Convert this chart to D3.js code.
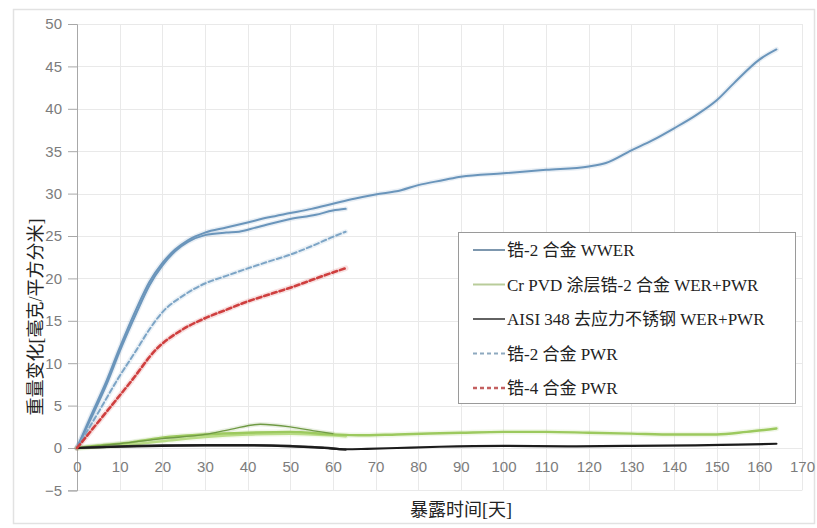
<!DOCTYPE html>
<html>
<head>
<meta charset="utf-8">
<script src="https://cdn.jsdelivr.net/npm/d3@7"></script>
<style>
  html, body { margin: 0; padding: 0; background: #fff; }
  svg { display: block; }
</style>
</head>
<body>
<svg id="chart" width="817" height="528"></svg>
<script>
// Weight change [mg/dm²] against exposure time [days], as [day, value] pairs
const zr2WwerLong = [[0,0],[3,3.5],[7,8],[10,11.8],[14,16.5],[17,19.6],[20,21.8],[23,23.4],[26,24.5],[30,25.4],[35,26],[40,26.6],[45,27.2],[50,27.7],[55,28.2],[60,28.8],[65,29.4],[70,29.9],[76,30.4],[80,31.0],[86,31.6],[90,32.0],[100,32.4],[110,32.8],[120,33.2],[124,33.6],[130,35.1],[135,36.3],[140,37.7],[145,39.2],[150,41],[154,43],[160,45.8],[164,47]];
const zr2WwerShort = [[0,0],[3,3.2],[7,7.6],[10,11.4],[14,16],[17,19.2],[20,21.5],[23,23.2],[26,24.3],[30,25.1],[35,25.4],[38,25.5],[42,26],[50,27],[56,27.5],[60,28],[63,28.2]];
const crPvdLong = [[0,0],[5,0.3],[11.7,0.6],[19.5,1.2],[30,1.6],[40,1.8],[50,1.9],[60,1.6],[66,1.5],[75,1.6],[90,1.8],[100,1.9],[110,1.9],[120,1.8],[130,1.7],[140,1.6],[150,1.6],[157,1.9],[164,2.3]];
const crPvdHump = [[0,0],[10,0.5],[20,1.1],[30,1.6],[36,2.2],[43,2.8],[50,2.5],[56,2.0],[60,1.7]];
const crPvdLow = [[0,0],[10,0.3],[20,0.8],[30,1.3],[40,1.6],[50,1.7],[60,1.5],[63,1.4]];
const aisiLong = [[0,0],[10,0.15],[20,0.25],[30,0.3],[40,0.3],[50,0.2],[58,0],[63,-0.15],[68,-0.1],[75,0],[85,0.15],[100,0.25],[115,0.2],[130,0.25],[145,0.3],[155,0.4],[164,0.5]];
const aisiShort = [[0,0],[10,0.2],[20,0.3],[30,0.35],[40,0.35],[50,0.25],[58,0.05],[63,-0.2]];
const zr2Pwr = [[0,0],[5,4.2],[9.4,8],[14,11.6],[17,14],[20,16],[25,18],[30,19.4],[35,20.3],[39,21],[45,22],[50,22.8],[55,23.8],[60,24.9],[63,25.5]];
const zr4Pwr = [[0,0],[6,3.7],[12.9,8],[18.5,11.6],[24.5,13.9],[30,15.3],[35,16.3],[39,17.1],[45,18.1],[50,18.9],[55,19.8],[60,20.7],[63,21.2]];

const xTicks = [0,10,20,30,40,50,60,70,80,90,100,110,120,130,140,150,160,170];
const yTicks = [-5,0,5,10,15,20,25,30,35,40,45,50];

const legendLabels = ["锆-2 合金 WWER", "Cr PVD 涂层锆-2 合金 WER+PWR", "AISI 348 去应力不锈钢 WER+PWR", "锆-2 合金 PWR", "锆-4 合金 PWR"];
const xTitle = "暴露时间[天]";
const yTitle = "重量变化[毫克/平方分米]";

const svg = d3.select("#chart");
const serif = "'Liberation Serif', 'Noto Sans CJK SC', serif";
const sans = "'Liberation Sans', Arial, sans-serif";

// outer frame
svg.append("rect").attr("x", 13.5).attr("y", 9.5).attr("width", 801).attr("height", 514)
  .attr("fill", "#fff").attr("stroke", "#e2e2e2").attr("stroke-width", 1.5);

const x = d3.scaleLinear().domain([0, 170]).range([77, 802]);
const y = d3.scaleLinear().domain([-5, 50]).range([490.4, 24]);

// grid
const grid = svg.append("g").attr("stroke", "#e9e9e9").attr("stroke-width", 1);
grid.selectAll("line.h").data(yTicks).join("line")
  .attr("x1", x(0)).attr("x2", x(170))
  .attr("y1", d => Math.round(y(d)) + 0.5).attr("y2", d => Math.round(y(d)) + 0.5);
grid.selectAll("line.v").data(xTicks.slice(1)).join("line")
  .attr("y1", y(50)).attr("y2", y(-5))
  .attr("x1", d => Math.round(x(d)) + 0.5).attr("x2", d => Math.round(x(d)) + 0.5);

// y axis
const yAxis = d3.axisLeft(y).tickValues(yTicks).tickSize(9).tickPadding(6);
const gy = svg.append("g").attr("transform", `translate(${x(0)},0)`).call(yAxis);
gy.select(".domain").attr("stroke", "#a8a8a8");
gy.selectAll(".tick line").attr("stroke", "#a8a8a8");
gy.selectAll(".tick text").attr("fill", "#7c7c7c").style("font-family", sans).style("font-size", "15px");

// x tick labels sit just below the zero line
const xAxis = d3.axisBottom(x).tickValues(xTicks).tickSize(0).tickPadding(13);
const gx = svg.append("g").attr("transform", `translate(0,${y(0)})`).call(xAxis);
gx.select(".domain").remove();
gx.selectAll(".tick text").attr("fill", "#7c7c7c").style("font-family", sans).style("font-size", "15px");

// axis titles
svg.append("text").attr("x", 461).attr("y", 516).attr("text-anchor", "middle")
  .style("font-family", serif).style("font-size", "18px").attr("fill", "#222").text(xTitle);
svg.append("text").attr("transform", "translate(42,317) rotate(-90)").attr("text-anchor", "middle")
  .style("font-family", serif).style("font-size", "18px").attr("fill", "#222").text(yTitle);

// series
const line = d3.line().x(d => x(d[0])).y(d => y(d[1])).curve(d3.curveMonotoneX);
const plot = svg.append("g").attr("fill", "none").attr("stroke-linecap", "round");

const series = [
  { data: crPvdLow,  color: "#b9dc86", width: 2.6 },
  { data: crPvdLong, color: "#9cc95e", width: 2.4 },
  { data: crPvdHump, color: "#6f9a44", width: 1.3 },
  { data: aisiShort, color: "#333", width: 2.2 },
  { data: aisiLong,  color: "#1c1c1c", width: 2.2 },
  { data: zr2WwerShort, color: "#6a95bb", width: 2 },
  { data: zr2WwerLong,  color: "#6a95bb", width: 2 },
  { data: zr2Pwr, color: "#7da5c6", width: 2, dash: "5,3" },
  { data: zr4Pwr, color: "#cf3f3f", width: 2.6, dash: "5,3" }
];
// soft halo beneath each blue/red trace
series.filter(s => s.color !== "#333" && s.color !== "#1c1c1c").forEach(s => {
  plot.append("path").attr("d", line(s.data)).attr("stroke", s.color)
    .attr("stroke-width", s.width + 3).attr("stroke-opacity", 0.15);
});
series.forEach(s => {
  plot.append("path").attr("d", line(s.data)).attr("stroke", s.color)
    .attr("stroke-width", s.width).attr("stroke-dasharray", s.dash || null);
});

// legend
const legendStyles = [
  { color: "#7d97ae", width: 2 },
  { color: "#b9cc9a", width: 2 },
  { color: "#3a3a3a", width: 1.6 },
  { color: "#8ea9bf", width: 2, dash: "4,3" },
  { color: "#c46060", width: 2.4, dash: "4,3" }
];
const lg = svg.append("g");
lg.append("rect").attr("x", 458.5).attr("y", 232.5).attr("width", 337).attr("height", 171)
  .attr("fill", "#fff").attr("stroke", "#9a9a9a").attr("stroke-width", 1);
const legendY = d3.scalePoint().domain(d3.range(legendLabels.length)).range([250, 388]);
legendLabels.forEach((lab, i) => {
  const cy = legendY(i);
  lg.append("line").attr("x1", 473).attr("x2", 505).attr("y1", cy).attr("y2", cy)
    .attr("stroke", legendStyles[i].color).attr("stroke-width", legendStyles[i].width)
    .attr("stroke-dasharray", legendStyles[i].dash || null);
  lg.append("text").attr("x", 507).attr("y", cy + 6)
    .style("font-family", serif).style("font-size", "17px").attr("fill", "#222").text(lab);
});
</script>
</body>
</html>
